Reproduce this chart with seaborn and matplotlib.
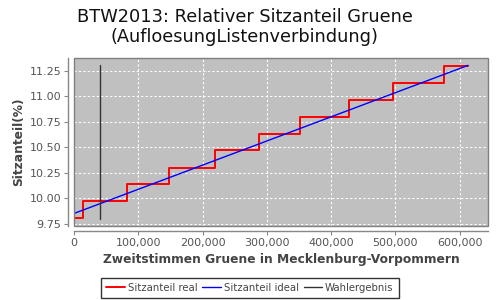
import numpy as np
import pandas as pd
import matplotlib
matplotlib.use("Agg")
import matplotlib.pyplot as plt
import seaborn as sns
from matplotlib.patches import Rectangle
from matplotlib.ticker import FuncFormatter, FixedLocator

# --- data ---
real_votes = [0, 13500, 82400, 147700, 219800, 287200, 351500, 427700, 496100, 575400, 613000]
real_share = [9.803, 9.970, 10.141, 10.301, 10.472, 10.630, 10.797, 10.960, 11.128, 11.292, 11.292]
ideal_votes = [0, 613000]
ideal_share = [9.852, 11.302]
result_votes = [40000, 40000]
result_share = [9.80, 11.31]

x_ticks = [0, 100000, 200000, 300000, 400000, 500000, 600000]
y_ticks = [9.75, 10.00, 10.25, 10.50, 10.75, 11.00, 11.25]

title = "BTW2013: Relativer Sitzanteil Gruene\n(AufloesungListenverbindung)"
xlabel = "Zweitstimmen Gruene in Mecklenburg-Vorpommern"
ylabel = "Sitzanteil(%)"

sns.set_style("white")
plt.rcParams['font.family'] = ['DejaVu Sans']

fig = plt.figure(figsize=(5, 3), dpi=100)
ax = fig.add_axes([0.148, 0.247, 0.828, 0.560])
ax.set_facecolor("#c0c0c0")

df_real = pd.DataFrame({"x": real_votes, "y": real_share})
df_ideal = pd.DataFrame({"x": ideal_votes, "y": ideal_share})
df_res = pd.DataFrame({"x": result_votes, "y": result_share})

sns.lineplot(data=df_real, x="x", y="y", ax=ax, color="#ff0000", lw=1.4,
             drawstyle="steps-post", label="Sitzanteil real", sort=False, estimator=None)
sns.lineplot(data=df_ideal, x="x", y="y", ax=ax, color="#0000ff", lw=1.0,
             label="Sitzanteil ideal", sort=False, estimator=None)
sns.lineplot(data=df_res, x="x", y="y", ax=ax, color="#333333", lw=1.0,
             label="Wahlergebnis", sort=False, estimator=None)

ax.set_xlim(0, 644000)
ax.set_ylim(9.73, 11.375)
ax.xaxis.set_major_locator(FixedLocator(x_ticks))
ax.yaxis.set_major_locator(FixedLocator(y_ticks))
ax.xaxis.set_major_formatter(FuncFormatter(lambda v, p: f"{int(v):,}"))
ax.yaxis.set_major_formatter(FuncFormatter(lambda v, p: f"{v:.2f}"))

ax.grid(True, color="white", linestyle=(0, (2, 2)), linewidth=0.8)
ax.set_axisbelow(True)

for s in ["top", "right"]:
    ax.spines[s].set_visible(False)
for s in ["left", "bottom"]:
    ax.spines[s].set_position(("outward", 4))
    ax.spines[s].set_color("#888888")
    ax.spines[s].set_linewidth(1.0)
ax.add_patch(Rectangle((0, 0), 1, 1, transform=ax.transAxes, fill=False,
                       edgecolor="#808080", lw=1.0, clip_on=False, zorder=5))

ax.tick_params(axis="both", which="both", direction="out", length=3, width=0.8,
               color="#888888", labelsize=8, labelcolor="#555555", pad=2,
               bottom=True, left=True)

ax.set_xlabel(xlabel, fontsize=8.8, fontweight="bold", color="#444444", labelpad=3)
ax.set_ylabel(ylabel, fontsize=8.8, fontweight="bold", color="#444444", labelpad=3)
fig.suptitle(title, fontsize=12.8, x=0.49, y=0.975, va="top", color="#111111", linespacing=1.2)

leg = ax.legend(loc="lower center", bbox_to_anchor=(0.5, 0.007),
                bbox_transform=fig.transFigure, ncol=3,
                frameon=True, fancybox=False, fontsize=7.3, handlelength=1.8,
                handletextpad=0.3, columnspacing=0.5, borderpad=0.5,
                borderaxespad=0)
leg.get_frame().set_edgecolor("black")
leg.get_frame().set_linewidth(1.0)
for t in leg.get_texts():
    t.set_color("#444444")

fig.savefig("out.png", dpi=100, facecolor="white")
